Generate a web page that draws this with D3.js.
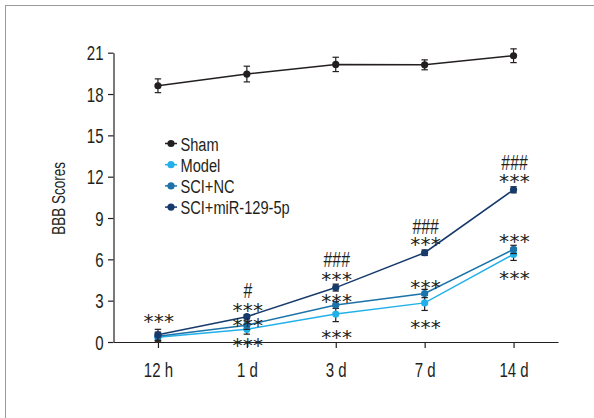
<!DOCTYPE html>
<html>
<head>
<meta charset="utf-8">
<script src="https://cdn.jsdelivr.net/npm/d3@7"></script>
<style>
  html, body { margin: 0; padding: 0; background: #fff; }
  svg { display: block; }
  text { font-family: "Liberation Sans", Arial, sans-serif; fill: #231f20; }
</style>
</head>
<body>
<svg id="chart" width="594" height="418"></svg>
<script>
// Time points after injury
const timepoints = ["12 h", "1 d", "3 d", "7 d", "14 d"];

// BBB locomotor scores (mean) per group
const sham      = [18.6, 19.45, 20.15, 20.12, 20.78];
const model     = [0.35, 0.92, 2.03, 2.84, 6.37];
const sciNC     = [0.42, 1.22, 2.69, 3.52, 6.72];
const sciMiR    = [0.52, 1.84, 3.95, 6.48, 11.05];

// Error bar half-widths (SD)
const shamErr   = [0.5, 0.57, 0.52, 0.36, 0.5];
const modelErr  = [0.3, 0.35, 0.55, 0.55, 0.45];
const sciNCErr  = [0.3, 0.3, 0.25, 0.3, 0.3];
const sciMiRErr = [0.4, 0.15, 0.25, 0.2, 0.22];

const yTicks = [0, 3, 6, 9, 12, 15, 18, 21];

// Significance marks: timepoint, symbol, vertical position in score units
const marks = [
  { t: "12 h", s: "***", v: 1.84 },
  { t: "1 d",  s: "#",   v: 3.78 },
  { t: "1 d",  s: "***", v: 2.62 },
  { t: "1 d",  s: "***", v: 1.55 },
  { t: "1 d",  s: "***", v: 0.09 },
  { t: "3 d",  s: "###", v: 6.01 },
  { t: "3 d",  s: "***", v: 4.87 },
  { t: "3 d",  s: "***", v: 3.29 },
  { t: "3 d",  s: "***", v: 0.68 },
  { t: "7 d",  s: "###", v: 8.45 },
  { t: "7 d",  s: "***", v: 7.41 },
  { t: "7 d",  s: "***", v: 4.31 },
  { t: "7 d",  s: "***", v: 1.36 },
  { t: "14 d", s: "###", v: 13.06 },
  { t: "14 d", s: "***", v: 12.01 },
  { t: "14 d", s: "***", v: 7.65 },
  { t: "14 d", s: "***", v: 4.94 }
];

const groups = [
  { name: "Sham",           values: sham,   err: shamErr,   color: "#231f20" },
  { name: "Model",          values: model,  err: modelErr,  color: "#22b0ea" },
  { name: "SCI+NC",         values: sciNC,  err: sciNCErr,  color: "#1b73a9" },
  { name: "SCI+miR-129-5p", values: sciMiR, err: sciMiRErr, color: "#173a6c" }
];

// horizontal squeeze that gives the condensed lettering
const SQ = 0.77;

const svg = d3.select("#chart");

// outer frame
svg.append("rect")
  .attr("x", 5.5).attr("y", 5.5)
  .attr("width", 620).attr("height", 440)
  .attr("fill", "none").attr("stroke", "#9a9a9a").attr("stroke-width", 1);

const x = d3.scalePoint().domain(timepoints).range([113.5, 558]).padding(0.5);
const y = d3.scaleLinear().domain([0, 21]).range([342, 52.7]);

// y axis
const yAxis = svg.append("g")
  .attr("transform", "translate(113.5,0)")
  .call(d3.axisLeft(y).tickValues(yTicks).tickSize(5.5).tickSizeOuter(0));
yAxis.select(".domain").attr("stroke", "#231f20").attr("stroke-width", 1.2);
yAxis.selectAll(".tick line").attr("stroke", "#231f20").attr("stroke-width", 1.2);
yAxis.selectAll(".tick text")
  .attr("font-size", 19.5).attr("fill", "#231f20")
  .attr("x", -10 / SQ).attr("dy", "0.36em")
  .attr("transform", `scale(${SQ},1)`)
  .style("font-family", "\"Liberation Sans\", Arial, sans-serif");

// x axis
const xAxis = svg.append("g")
  .attr("transform", "translate(0,342)")
  .call(d3.axisBottom(x).tickSize(6).tickSizeOuter(0));
xAxis.select(".domain").attr("stroke", "#231f20").attr("stroke-width", 1.2);
xAxis.selectAll(".tick line").attr("stroke", "#231f20").attr("stroke-width", 1.2);
xAxis.selectAll(".tick text")
  .attr("font-size", 19.5).attr("fill", "#231f20")
  .attr("y", 35).attr("dy", 0)
  .attr("transform", `scale(${SQ},1)`)
  .style("font-family", "\"Liberation Sans\", Arial, sans-serif");

// y axis title
svg.append("text")
  .attr("transform", `translate(65,${(y(0) + y(21)) / 2 + 1}) rotate(-90) scale(${SQ},1)`)
  .attr("text-anchor", "middle")
  .attr("font-size", 17.5)
  .text("BBB Scores");

const line = d3.line().x((d, i) => x(timepoints[i])).y(d => y(d));

// draw groups back to front
groups.forEach(g => {
  const gg = svg.append("g");
  gg.append("path")
    .attr("d", line(g.values))
    .attr("fill", "none").attr("stroke", g.color).attr("stroke-width", 1.5);
  g.values.forEach((v, i) => {
    const cx = x(timepoints[i]);
    const lo = y(v - g.err[i]), hi = y(v + g.err[i]);
    gg.append("line").attr("x1", cx).attr("x2", cx).attr("y1", lo).attr("y2", hi)
      .attr("stroke", "#231f20").attr("stroke-width", 1.2);
    [lo, hi].forEach(yy => gg.append("line")
      .attr("x1", cx - 3.2).attr("x2", cx + 3.2).attr("y1", yy).attr("y2", yy)
      .attr("stroke", "#231f20").attr("stroke-width", 1.2));
  });
  gg.selectAll("circle").data(g.values).join("circle")
    .attr("cx", (d, i) => x(timepoints[i]))
    .attr("cy", d => y(d))
    .attr("r", 3.6)
    .attr("fill", g.color);
});

// significance marks
const markG = svg.append("g");
markG.selectAll("text.star").data(marks.filter(d => d.s[0] === "*")).join("text")
  .attr("class", "star")
  .attr("x", d => x(d.t) + 1)
  .attr("y", d => y(d.v) + 11)
  .attr("text-anchor", "middle")
  .attr("font-size", 20)
  .attr("letter-spacing", 0.3)
  .style("font-family", "\"DejaVu Sans\", sans-serif")
  .attr("fill", "#4a4a4a")
  .text(d => d.s);
markG.selectAll("text.hash").data(marks.filter(d => d.s[0] === "#")).join("text")
  .attr("class", "hash")
  .attr("transform", d => `translate(${x(d.t) + 1},${y(d.v) + 8}) scale(0.72,1)`)
  .attr("text-anchor", "middle")
  .attr("font-size", 22)
  .attr("fill", "#4a4a4a")
  .text(d => d.s);

// legend
const legend = svg.append("g");
groups.forEach((g, i) => {
  const ly = 143.5 + i * 21.2;
  legend.append("line").attr("x1", 165).attr("x2", 177).attr("y1", ly).attr("y2", ly)
    .attr("stroke", g.color).attr("stroke-width", 1.5);
  legend.append("circle").attr("cx", 171).attr("cy", ly).attr("r", 3.6).attr("fill", g.color);
  legend.append("text")
    .attr("transform", `translate(180.5,${ly + 7}) scale(${SQ},1)`)
    .attr("font-size", 19).text(g.name);
});
</script>
</body>
</html>
